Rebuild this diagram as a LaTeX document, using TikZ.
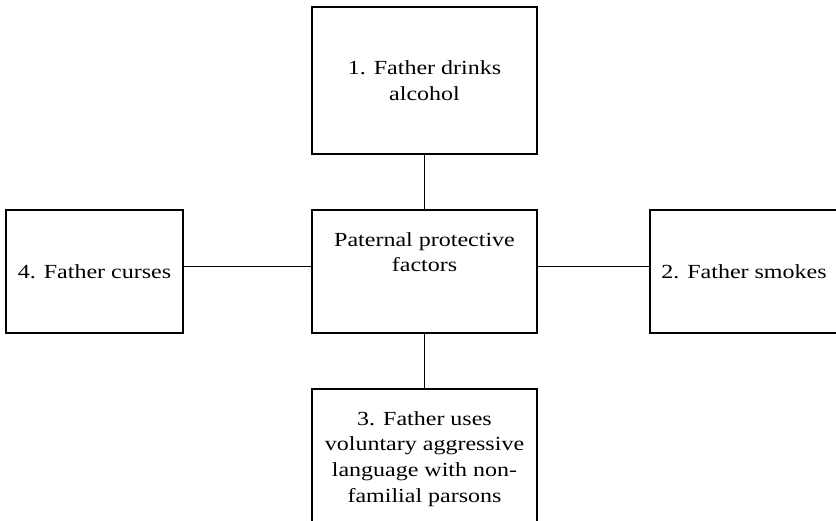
\documentclass[tikz,border=0pt]{standalone}
\usepackage{fontspec}
\setmainfont{Liberation Serif}[FakeStretch=1.2]
\begin{document}
\begin{tikzpicture}[x=1pt,y=-1pt,
  box/.style={draw, line width=1.5pt, inner sep=0pt, align=center,
    font={\fontsize{20}{25.8}\selectfont}},
  txt/.style={inner sep=0pt, align=center, anchor=base,
    font={\fontsize{20}{25.8}\selectfont}},
  link/.style={line width=1.5pt}]
\useasboundingbox (0,0) rectangle (836,520);
\node[box, minimum width=225pt, minimum height=147pt] (T) at (424.5,80.5) {1. Father drinks\\alcohol};
\node[box, minimum width=225pt, minimum height=123pt] (C) at (424.5,271.5) {};
\node[txt] (Ct) at (424.5,271.8) {Paternal protective\\factors};
\node[box, minimum width=177pt, minimum height=123pt] (L) at (94.5,271.5) {4. Father curses};
\node[box, minimum width=188pt, minimum height=123pt] (R) at (744,271.5) {2. Father smokes};
\node[box, minimum width=225pt, minimum height=137pt] (B) at (424.5,457.5) {};
\node[txt] (Bt) at (424.5,502.4) {3. Father uses\\voluntary aggressive\\language with non-\\familial parsons};
\draw[link] (T.south) -- (C.north);
\draw[link] (C.south) -- (B.north);
\draw[link] ([yshift=5pt]C.west) -- ([yshift=5pt]L.east);
\draw[link] ([yshift=5pt]C.east) -- ([yshift=5pt]R.west);
\end{tikzpicture}
\end{document}
